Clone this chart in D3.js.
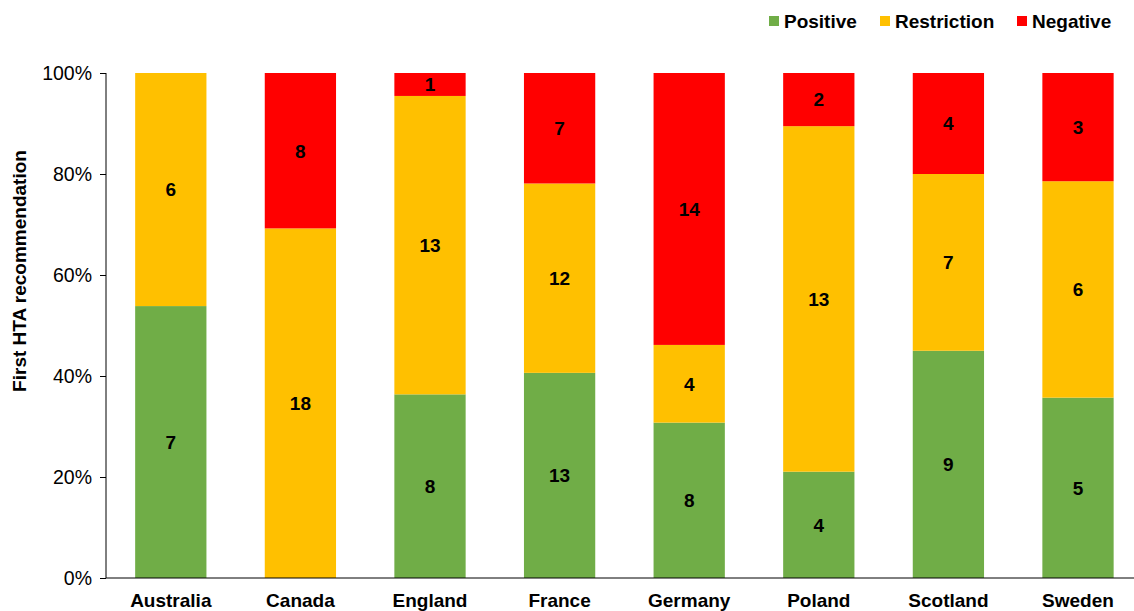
<!DOCTYPE html>
<html>
<head>
<meta charset="utf-8">
<script src="https://cdn.jsdelivr.net/npm/d3@7"></script>
<style>
  body { margin: 0; background: #fff; }
  text { font-family: "Liberation Sans", Arial, sans-serif; }
</style>
</head>
<body>
<div id="chart"></div>
<script>
// counts of first HTA recommendation per country
var countries = ["Australia", "Canada", "England", "France", "Germany", "Poland", "Scotland", "Sweden"];
var positive = [7, 0, 8, 13, 8, 4, 9, 5];
var restriction = [6, 18, 13, 12, 4, 13, 7, 6];
var negative = [0, 8, 1, 7, 14, 2, 4, 3];
var seriesNames = ["Positive", "Restriction", "Negative"];
var colors = ["#70AD47", "#FFC000", "#FF0000"];
var yTicks = [0, 0.2, 0.4, 0.6, 0.8, 1];

var width = 1134, height = 611;
var margin = { top: 73, left: 106, bottom: 33 };

var svg = d3.select("#chart").append("svg")
    .attr("width", width)
    .attr("height", height);

var rows = countries.map(function(c, i) {
    var total = positive[i] + restriction[i] + negative[i];
    return {
        country: c,
        Positive: positive[i] / total,
        Restriction: restriction[i] / total,
        Negative: negative[i] / total,
        counts: { Positive: positive[i], Restriction: restriction[i], Negative: negative[i] }
    };
});

var stacked = d3.stack().keys(seriesNames)(rows);

var x = d3.scaleBand()
    .domain(countries)
    .range([margin.left, margin.left + 8 * 129.6])
    .paddingInner(0.45)
    .paddingOuter(0.225);

var y = d3.scaleLinear()
    .domain([0, 1])
    .range([height - margin.bottom, margin.top]);

var color = d3.scaleOrdinal().domain(seriesNames).range(colors);

// bars
var layers = svg.append("g").selectAll("g")
    .data(stacked)
    .enter().append("g")
    .attr("fill", function(d) { return color(d.key); });

layers.selectAll("rect")
    .data(function(d) { return d; })
    .enter().append("rect")
    .attr("x", function(d) { return x(d.data.country); })
    .attr("y", function(d) { return y(d[1]); })
    .attr("width", x.bandwidth())
    .attr("height", function(d) { return y(d[0]) - y(d[1]); });

// data labels
stacked.forEach(function(layer) {
    svg.append("g").selectAll("text")
        .data(layer.filter(function(d) { return d.data.counts[layer.key] > 0; }))
        .enter().append("text")
        .attr("x", function(d) { return x(d.data.country) + x.bandwidth() / 2; })
        .attr("y", function(d) { return (y(d[0]) + y(d[1])) / 2; })
        .attr("dy", "0.36em")
        .attr("text-anchor", "middle")
        .style("font-size", "19px")
        .style("font-weight", "bold")
        .text(function(d) { return d.data.counts[layer.key]; });
});

// y axis
var yAxis = svg.append("g")
    .attr("transform", "translate(" + margin.left + ",0)")
    .call(d3.axisLeft(y).tickValues(yTicks).tickFormat(d3.format(".0%")).tickSize(6).tickPadding(8));
yAxis.selectAll("text").style("font-size", "19.5px").attr("fill", "#000");
yAxis.selectAll("line, path").attr("stroke", "#000");
yAxis.select(".domain").attr("d", "M0," + y(1) + "V" + y(0));

// x axis
var xAxis = svg.append("g")
    .attr("transform", "translate(0," + y(0) + ")")
    .call(d3.axisBottom(x).tickSize(0).tickPadding(16));
xAxis.select(".domain").attr("stroke", "#000").attr("d", "M" + margin.left + ",0H" + width);
xAxis.selectAll("text")
    .style("font-size", "19px")
    .style("font-weight", "bold")
    .attr("fill", "#000");

// y axis title
svg.append("text")
    .attr("transform", "translate(26,271) rotate(-90)")
    .attr("text-anchor", "middle")
    .style("font-size", "19px")
    .style("font-weight", "bold")
    .text("First HTA recommendation");

// legend
var legendX = [769, 880, 1017];
var legend = svg.append("g").selectAll("g")
    .data(seriesNames)
    .enter().append("g")
    .attr("transform", function(d, i) { return "translate(" + legendX[i] + ",16)"; });
legend.append("rect")
    .attr("width", 10).attr("height", 10)
    .attr("fill", function(d) { return color(d); });
legend.append("text")
    .attr("x", 15).attr("y", 5).attr("dy", "0.36em")
    .style("font-size", "19px")
    .style("font-weight", "bold")
    .text(function(d) { return d; });
</script>
</body>
</html>
